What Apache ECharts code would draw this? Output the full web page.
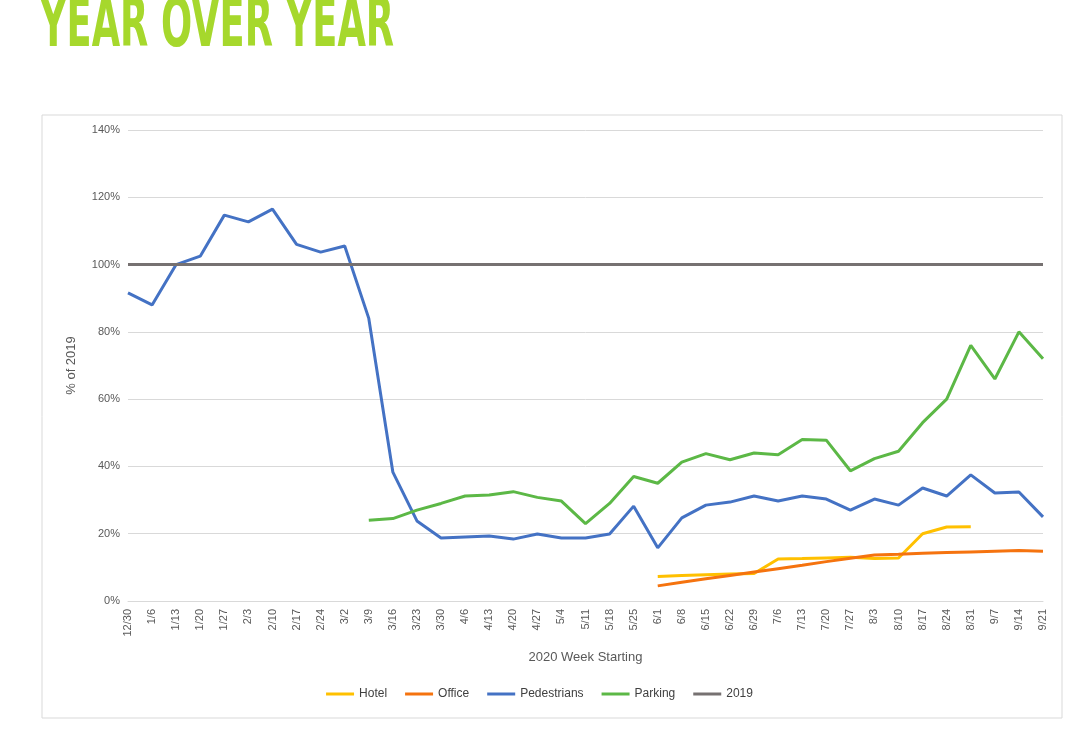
<!DOCTYPE html>
<html><head><meta charset="utf-8">
<script src="https://cdn.jsdelivr.net/npm/echarts@6/dist/echarts.min.js"></script>
<style>html,body{margin:0;padding:0;background:#fff}#c{width:1079px;height:739px}</style>
</head><body><div id="c"></div>
<script>
const categories=["12/30","1/6","1/13","1/20","1/27","2/3","2/10","2/17","2/24","3/2","3/9","3/16","3/23","3/30","4/6","4/13","4/20","4/27","5/4","5/11","5/18","5/25","6/1","6/8","6/15","6/22","6/29","7/6","7/13","7/20","7/27","8/3","8/10","8/17","8/24","8/31","9/7","9/14","9/21"];
const pedestrians=[91.6,88,100,102.5,114.7,112.7,116.5,106,103.7,105.5,84,38.3,23.8,18.7,19,19.3,18.4,19.9,18.7,18.7,19.9,28.2,15.8,24.7,28.5,29.4,31.2,29.7,31.2,30.3,27,30.3,28.5,33.6,31.2,37.5,32.1,32.4,25];
const parking=[null,null,null,null,null,null,null,null,null,null,24,24.5,27,29,31.2,31.5,32.5,30.8,29.7,23,29,37,35,41.3,43.8,42,44,43.5,48,47.8,38.7,42.3,44.5,53,60,76,66,80,72];
const hotel=[null,null,null,null,null,null,null,null,null,null,null,null,null,null,null,null,null,null,null,null,null,null,7.3,7.6,7.8,8,8.2,12.5,12.6,12.8,13,12.6,12.8,20,22,22.1,null,null,null];
const office=[null,null,null,null,null,null,null,null,null,null,null,null,null,null,null,null,null,null,null,null,null,null,4.5,5.6,6.6,7.6,8.6,9.6,10.6,11.7,12.7,13.7,13.9,14.2,14.4,14.6,14.8,15,14.8];
const y2019=categories.map(()=>100);
const c=echarts.init(document.getElementById('c'));
const ln=(name,data,color)=>({name,type:'line',data,symbol:'none',lineStyle:{width:3,color},itemStyle:{color},connectNulls:false});
c.setOption({
 animation:false,
 graphic:[
  {type:'text',x:40,y:-6,style:{text:'YEAR OVER YEAR',font:'bold 68px "DejaVu Sans Condensed"',fill:'#a6d82c'},scaleX:0.6},
  {type:'rect',shape:{x:42,y:115,width:1020,height:603},style:{fill:'none',stroke:'#d9d9d9',lineWidth:1}}
 ],
 grid:{left:128,right:36,top:130,bottom:138},
 legend:{bottom:34,left:'center',itemWidth:28,itemHeight:3,itemGap:18,icon:'rect',textStyle:{fontSize:12,color:'#404040',fontFamily:'Liberation Sans'}},
 xAxis:{type:'category',boundaryGap:false,data:categories,name:'2020 Week Starting',nameLocation:'middle',nameGap:50,nameTextStyle:{fontSize:13,color:'#595959'},
  axisLabel:{rotate:90,interval:0,fontSize:11,color:'#595959'},axisLine:{lineStyle:{color:'#d9d9d9'}},axisTick:{show:false}},
 yAxis:{type:'value',min:0,max:140,interval:20,name:'% of 2019',nameLocation:'middle',nameGap:50,nameTextStyle:{fontSize:13,color:'#595959'},
  axisLabel:{formatter:'{value}%',fontSize:11,color:'#595959'},splitLine:{lineStyle:{color:'#d9d9d9'}},axisLine:{show:false}},
 series:[ln('Hotel',hotel,'#ffc000'),ln('Office',office,'#f5730f'),ln('Pedestrians',pedestrians,'#4472c4'),ln('Parking',parking,'#5cb846'),ln('2019',y2019,'#767171')]
});
</script></body></html>
